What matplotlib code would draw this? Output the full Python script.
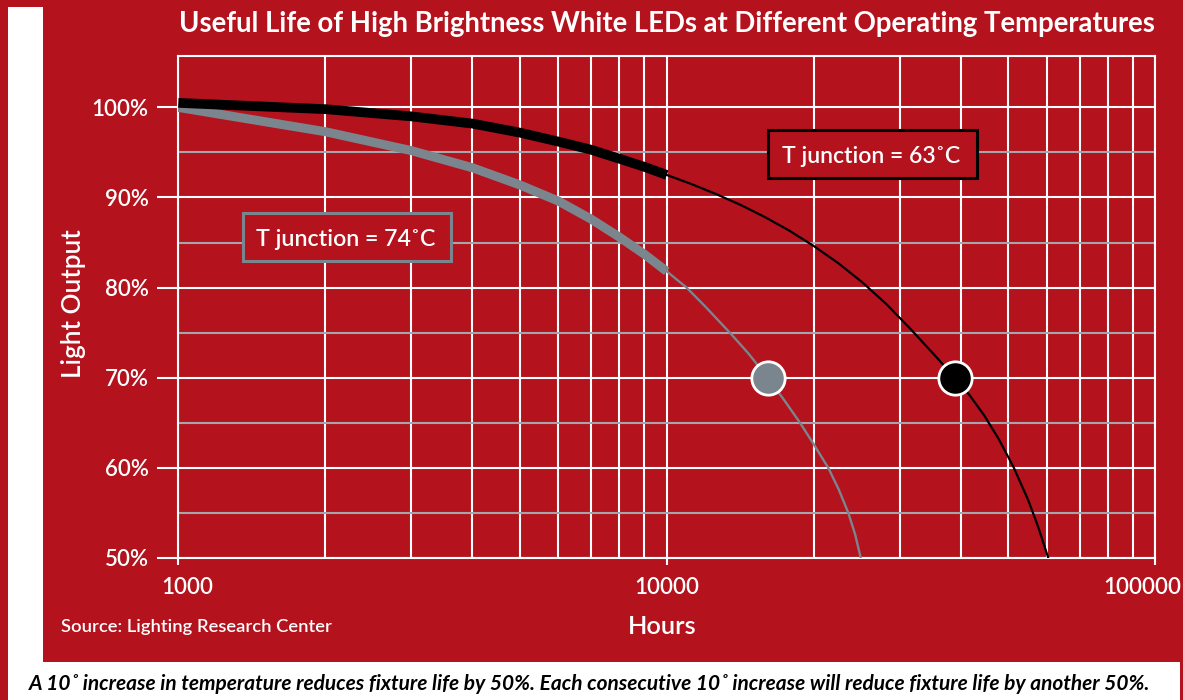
import matplotlib
matplotlib.use("Agg")
import matplotlib.pyplot as plt
from matplotlib.patches import Rectangle
from matplotlib.transforms import ScaledTranslation
from matplotlib.ticker import FixedLocator, NullFormatter

# ---------------- data ----------------
black_thick_hours = [1000, 2000, 3000, 4000, 5000, 6000, 7000, 8000, 9000, 10000]
black_thick_pct = [100.5, 99.8, 99.0, 98.2, 97.2, 96.2, 95.3, 94.3, 93.4, 92.5]
black_thin_hours = [10000, 11220, 12590, 14130, 15850, 17780, 19950, 22390, 25120, 28180,
                    31620, 35480, 38900, 41690, 44670, 47860, 51290, 54950, 57540, 60390]
black_thin_pct = [92.5, 91.5, 90.4, 89.2, 87.85, 86.35, 84.65, 82.75, 80.6, 78.15,
                  75.35, 72.4, 70.0, 68.05, 65.8, 63.15, 60.06, 56.4, 53.5, 50.0]

grey_thick_hours = [1000, 2000, 3000, 4000, 5000, 6000, 7000, 8000, 9000, 10000]
grey_thick_pct = [100.0, 97.3, 95.2, 93.3, 91.4, 89.6, 87.6, 85.6, 83.7, 81.8]
grey_thin_hours = [10000, 10980, 11990, 13460, 14690, 16090, 17400, 18740, 20000,
                   21410, 22490, 23530, 24300, 24950]
grey_thin_pct = [81.8, 80.0, 77.9, 75.0, 72.7, 70.0, 67.5, 65.0, 62.6,
                 60.0, 57.6, 55.0, 52.6, 50.0]

point_hours = [16090, 38900]
point_pct = [70, 70]

x_major = [1000, 10000, 100000]
x_major_labels = ["1000", "10000", "100000"]
x_minor = [2000, 3000, 4000, 5000, 6000, 7000, 8000, 9000,
           20000, 30000, 40000, 50000, 60000, 70000, 80000, 90000]
y_major = [50, 60, 70, 80, 90, 100]
y_major_labels = ["50%", "60%", "70%", "80%", "90%", "100%"]
y_minor = [55, 65, 75, 85, 95]

title = "Useful Life of High Brightness White LEDs at Different Operating Temperatures"
label_63 = "T junction = 63˚C"
label_74 = "T junction = 74˚C"
source = "Source: Lighting Research Center"
caption = ("A 10˚ increase in temperature reduces fixture life by 50%. "
           "Each consecutive 10˚ increase will reduce fixture life by another 50%.")

# ---------------- style ----------------
RED = "#B4121D"
GREY = "#7B858E"
GRIDGREY = "#A3A6AA"
W, H = 1183, 700
FAM = ["Lato", "DejaVu Sans"]
plt.rcParams["font.family"] = FAM

fig = plt.figure(figsize=(W / 100, H / 100), dpi=100, facecolor=RED)

def fx(x):
    return x / W

def fy(y):
    return 1 - y / H

# white L-shaped frame
fig.patches.append(Rectangle((fx(8), fy(700)), fx(43) - fx(8), fy(7) - fy(700),
                             transform=fig.transFigure, facecolor="white", edgecolor="none", zorder=0))
fig.patches.append(Rectangle((fx(8), fy(700)), fx(1180) - fx(8), fy(662) - fy(700),
                             transform=fig.transFigure, facecolor="white", edgecolor="none", zorder=0))

L, R, T, B = 178.3, 1155.3, 56, 558
ax = fig.add_axes([fx(L), fy(B), fx(R) - fx(L), fy(T) - fy(B)])
ax.set_facecolor(RED)
ax.set_xscale("log")
ax.set_xlim(1000, 100000)
ax.set_ylim(50, 105.7)

ax.xaxis.set_major_locator(FixedLocator(x_major))
ax.xaxis.set_minor_locator(FixedLocator(x_minor))
ax.xaxis.set_minor_formatter(NullFormatter())
ax.set_xticks(x_major, x_major_labels)
ax.yaxis.set_major_locator(FixedLocator(y_major))
ax.yaxis.set_minor_locator(FixedLocator(y_minor))
ax.set_yticks(y_major, y_major_labels)

ax.grid(which="major", axis="both", color="white", lw=1.5, zorder=1)
ax.grid(which="minor", axis="x", color="white", lw=1.5, zorder=1)
ax.grid(which="minor", axis="y", color=GRIDGREY, lw=1.5, zorder=1)
ax.set_axisbelow(True)

for s in ax.spines.values():
    s.set_color("white")
    s.set_linewidth(1.5)

ax.tick_params(axis="y", which="major", direction="out", length=15, width=1.5, color="white",
               labelcolor="white", labelsize=16, pad=6.5)
ax.tick_params(axis="x", which="major", direction="out", length=5, width=1.5, color="white",
               labelcolor="white", labelsize=16, pad=9)
ax.tick_params(which="minor", length=0)
for lab in ax.get_xticklabels() + ax.get_yticklabels():
    lab.set_fontweight("semibold")

# shift outer x tick labels like the reference
shifts = [9, 0, -13]
for lab, dx in zip(ax.get_xticklabels(), shifts):
    lab.set_transform(lab.get_transform() + ScaledTranslation(dx / 100, 0, fig.dpi_scale_trans))

# curves
ax.plot(black_thin_hours, black_thin_pct, color="black", lw=1.6, zorder=3)
ax.plot(grey_thin_hours, grey_thin_pct, color=GREY, lw=1.7, zorder=3)
ax.plot(grey_thick_hours, grey_thick_pct, color=GREY, lw=6.5, zorder=4,
        solid_capstyle="butt", solid_joinstyle="round")
ax.plot(black_thick_hours, black_thick_pct, color="black", lw=7, zorder=4,
        solid_capstyle="butt", solid_joinstyle="round")
ax.plot(point_hours[0], point_pct[0], "o", ms=24, mfc=GREY, mec="white", mew=2, zorder=6)
ax.plot(point_hours[1], point_pct[1], "o", ms=24, mfc="black", mec="white", mew=2, zorder=6)

renderer = fig.canvas.get_renderer()

def fit(t, target_w):
    bb = t.get_window_extent(renderer)
    t.set_fontsize(t.get_fontsize() * target_w / bb.width)
    return t

# label boxes
def box(x0, y0, x1, y1, ec, text, tx0, tx1, base):
    fig.patches.append(Rectangle((fx(x0), fy(y1)), fx(x1) - fx(x0), fy(y0) - fy(y1),
                                 transform=fig.transFigure, facecolor=RED, edgecolor=ec,
                                 lw=2.2, zorder=7))
    t = fig.text(fx((tx0 + tx1) / 2), fy(base), text, color="white", ha="center", va="baseline",
                 fontsize=17, fontweight="semibold", zorder=8)
    fit(t, tx1 - tx0)

box(768.3, 130, 976.7, 178.3, "black", label_63, 781.7, 960, 162.7)
box(242.7, 213.3, 451, 261, GREY, label_74, 256, 435, 245.7)

# title
t = fig.text(fx(666.5), fy(31.7), title, color="white", ha="center", va="baseline",
             fontsize=18, fontweight="bold")
fit(t, 981)

# axis labels
t = fig.text(fx(73), fy(304), "Light Output", color="white", rotation=90, ha="center", va="center",
             fontsize=16, fontweight="semibold")
bb = t.get_window_extent(renderer)
t.set_fontsize(t.get_fontsize() * 148 / bb.height)

t = fig.text(fx(662.5), fy(634), "Hours", color="white", ha="center", va="baseline",
             fontsize=16, fontweight="semibold")
fit(t, 69)

t = fig.text(fx(61), fy(631.7), source, color="white", ha="left", va="baseline",
             fontsize=12, fontweight="semibold")
fit(t, 271)

t = fig.text(fx(590), fy(690), caption, color="black", ha="center", va="baseline",
             fontsize=14, fontweight="bold", fontstyle="italic")
fit(t, 1124)

fig.savefig("out.png", dpi=100, facecolor=RED)
